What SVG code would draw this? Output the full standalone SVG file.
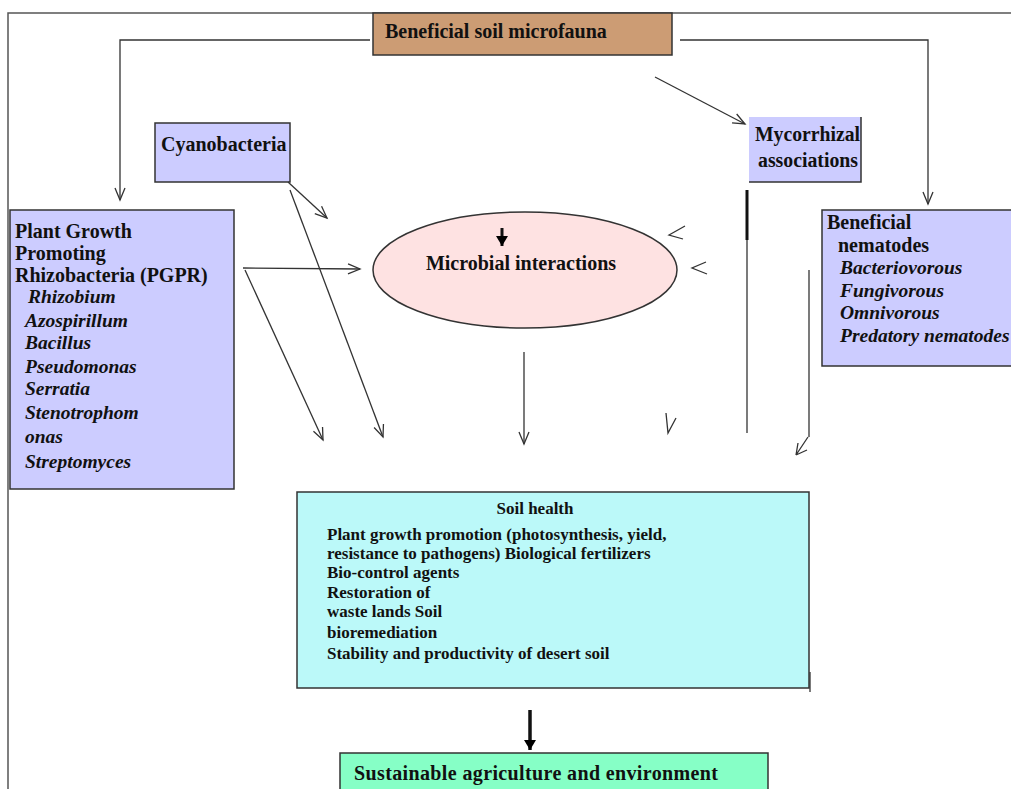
<svg xmlns="http://www.w3.org/2000/svg" width="1011" height="789" viewBox="0 0 1011 789">
<defs>
<marker id="arr" markerUnits="userSpaceOnUse" markerWidth="16" markerHeight="12" refX="13" refY="6" orient="auto">
<path d="M1,1 L13,6 L1,11" fill="none" stroke="#333" stroke-width="1.3"/>
</marker>
<marker id="bold" markerUnits="userSpaceOnUse" markerWidth="12" markerHeight="12" refX="10" refY="6" orient="auto">
<path d="M0,0 L10,6 L0,12 Z" fill="#000"/>
</marker>
<style>
text{font-family:"Liberation Serif","Times New Roman",serif;font-weight:bold;fill:#111}
.it{font-style:italic}
.box{stroke:#333;stroke-width:1.5}
.c{fill:none;stroke:#333;stroke-width:1.3}
</style>
</defs>
<rect width="1011" height="789" fill="#fff"/>
<g id="frame" fill="none" stroke="#555" stroke-width="1.5">
<path d="M8,789 V13 H1011"/>
</g>
<g id="microfauna">
<rect class="box" x="373" y="13" width="299" height="42" fill="#CC9C74"/>
<text x="385" y="38" font-size="20">Beneficial soil microfauna</text>
</g>
<g id="cyanobacteria">
<rect class="box" x="155" y="123" width="135" height="59" fill="#CCCCFF"/>
<text x="161" y="151" font-size="20">Cyanobacteria</text>
</g>
<g id="mycorrhizal">
<rect x="749" y="117" width="112" height="65" fill="#CCCCFF"/>
<path d="M861,117 V182 H749" fill="none" stroke="#333" stroke-width="1.5"/>
<text x="755" y="141" font-size="20" textLength="105" lengthAdjust="spacingAndGlyphs">Mycorrhizal</text>
<text x="758" y="167" font-size="20" textLength="100" lengthAdjust="spacingAndGlyphs">associations</text>
</g>
<g id="pgpr">
<rect class="box" x="10" y="210" width="224" height="279" fill="#CCCCFF"/>
<text x="15" y="238" font-size="20">Plant Growth</text>
<text x="15" y="260" font-size="20">Promoting</text>
<text x="15" y="282" font-size="20">Rhizobacteria (PGPR)</text>
<g font-size="19.5">
<text class="it" x="28" y="303">Rhizobium</text>
<text class="it" x="25" y="327">Azospirillum</text>
<text class="it" x="25" y="349">Bacillus</text>
<text class="it" x="25" y="373">Pseudomonas</text>
<text class="it" x="25" y="395">Serratia</text>
<text class="it" x="25" y="419">Stenotrophom</text>
<text class="it" x="25" y="443">onas</text>
<text class="it" x="25" y="468">Streptomyces</text>
</g>
</g>
<g id="nematodes">
<rect class="box" x="822" y="210" width="195" height="156" fill="#CCCCFF"/>
<text x="827" y="229" font-size="20">Beneficial</text>
<text x="838" y="252" font-size="20">nematodes</text>
<g font-size="19.5">
<text class="it" x="840" y="274">Bacteriovorous</text>
<text class="it" x="840" y="297">Fungivorous</text>
<text class="it" x="840" y="319">Omnivorous</text>
<text class="it" x="840" y="342">Predatory nematodes</text>
</g>
</g>
<g id="microbial">
<ellipse cx="525" cy="270" rx="152" ry="58" fill="#FEE2E2" stroke="#333" stroke-width="1.5"/>
<text x="521" y="270" font-size="20" text-anchor="middle">Microbial interactions</text>
</g>
<g id="soilhealth">
<rect class="box" x="297" y="492" width="512" height="196" fill="#BBF9F9"/>
<text x="535" y="514" font-size="17" text-anchor="middle">Soil health</text>
<g font-size="17">
<text x="327" y="540">Plant growth promotion (photosynthesis, yield,</text>
<text x="327" y="559">resistance to pathogens) Biological fertilizers</text>
<text x="327" y="578">Bio-control agents</text>
<text x="327" y="598">Restoration of</text>
<text x="327" y="617">waste lands Soil</text>
<text x="327" y="638">bioremediation</text>
<text x="327" y="659">Stability and productivity of desert soil</text>
</g>
</g>
<g id="sustainable">
<rect class="box" x="340" y="753" width="428" height="40" fill="#86FFC6"/>
<text x="354" y="780" font-size="20" textLength="364" lengthAdjust="spacing">Sustainable agriculture and environment</text>
</g>
<g id="connectors">
<path class="c" d="M370,40 H120 V200" marker-end="url(#arr)"/>
<path class="c" d="M680,40 H928 V204" marker-end="url(#arr)"/>
<path class="c" d="M655,77 L745,124" marker-end="url(#arr)"/>
<path class="c" d="M288,182 L327,218" marker-end="url(#arr)"/>
<path class="c" d="M290,190 L383,437" marker-end="url(#arr)"/>
<path class="c" d="M243,268 L360,269" marker-end="url(#arr)"/>
<path class="c" d="M245,270 L323,440" marker-end="url(#arr)"/>
<path class="c" d="M524,352 L524,444" marker-end="url(#arr)"/>
<path class="c" d="M685,226 L669,235 L683,239"/>
<path class="c" d="M706,262 L692,268 L707,274"/>
<path class="c" d="M666,413 L668,433 L676,418"/>
<path class="c" d="M747,195 V433"/>
<path d="M747,190 V240" fill="none" stroke="#111" stroke-width="3"/>
<path class="c" d="M809,270 V437"/>
<path class="c" d="M808,437 L796,455 M796,455 L798,443 M796,455 L807,450"/>
<path d="M810,672 V692" fill="none" stroke="#333" stroke-width="1.3"/>
<path d="M502,228 V246" stroke="#111" stroke-width="3" marker-end="url(#bold)"/>
<path d="M530,710 V750" stroke="#111" stroke-width="3.5" marker-end="url(#bold)"/>
</g>
</svg>
